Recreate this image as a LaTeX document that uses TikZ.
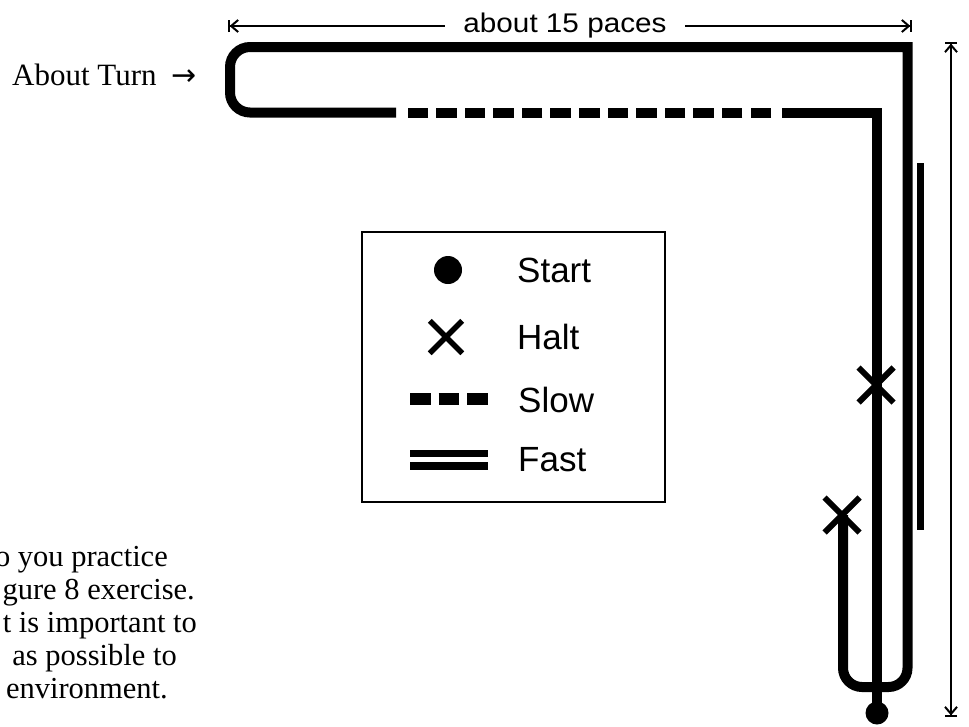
\documentclass[tikz,border=0pt]{standalone}
\usepackage{fontspec}
\setmainfont{Liberation Serif}
\newfontfamily\arialf{Liberation Sans}
\newfontfamily\dejavuf{DejaVu Sans}
\usetikzlibrary{arrows.meta,shapes.misc}
\begin{document}
\begin{tikzpicture}[x=1pt,y=-1pt,
  route/.style={line width=10pt,line join=miter},
  slowdash/.style={line width=10pt,dash pattern=on 20.5pt off 8.08pt},
  fastbar/.style={line width=7.5pt},
  haltmark/.style={cross out,draw,line width=6pt,minimum size=29pt,inner sep=0pt},
  startdot/.style={circle,fill,inner sep=0pt,minimum size=#1},
  dimline/.style={line width=1.4pt,
    arrows={Bar[width=12pt,line width=1.6pt]Straight Barb[length=7pt,width=12pt,line width=2pt]-Straight Barb[length=7pt,width=12pt,line width=2pt]Bar[width=12pt,line width=1.6pt]}},
  legtext/.style={inner sep=0pt,anchor=west,font=\arialf\fontsize{35}{40}\selectfont},
  serif/.style={inner sep=0pt,font=\fontsize{30.5}{33}\selectfont},
  legbox/.style={draw,line width=1.5pt}
]
\useasboundingbox (0,0) rectangle (969,726);

% coordinates of the route
\coordinate (innercorner) at (877,112.5);
\coordinate (slowend) at (782,112.5);
\coordinate (dashR) at (771,112.5);
\coordinate (dashL) at (407,112.5);
\coordinate (slowstart) at (396,112.5);
\coordinate (turnbot) at (230,112.5);
\coordinate (turntop) at (230,47);
\coordinate (topmid) at (600,47);
\coordinate (outercorner) at (907.5,47);
\coordinate (outerlow) at (907.5,600);
\coordinate (ubotR) at (907.5,687);
\coordinate (ubotL) at (843,687);
\coordinate (armend) at (843,515);

% start dot
\node[startdot=23pt] (sdot) at (877,713) {};

% route: centre line up, turn left
\draw[route] (sdot.center) -- (innercorner) -- (slowend);
% slow section
\draw[slowdash] (dashR) -- (dashL);
% about turn, top line, down outer side, U-turn, up to halt
\draw[route] (slowstart) [rounded corners=20pt] -- (turnbot) -- (turntop) -- (topmid)
  [sharp corners] -- (outercorner) -- (outerlow)
  [rounded corners=19pt] -- (ubotR) -- (ubotL) -- (armend);

% halt marks
\node[haltmark] (halt1) at (876,385) {};
\node[haltmark] (halt2) at (842,515) {};

% fast section
\coordinate (fastT) at (920.5,163);
\coordinate (fastB) at (920.5,530);
\draw[fastbar] (fastT) -- (fastB);

% dimension lines
\coordinate (dimL) at (228,26);
\coordinate (dimR) at (912,26);
\draw[dimline] (dimL) -- (dimR);
\node[fill=white,inner xsep=18pt,inner ysep=2pt,anchor=base,font=\arialf\fontsize{27}{30}\selectfont] (paces) at (565,32) {\scalebox{1.1}[1]{about 15 paces}};
\coordinate (dimT) at (951,42);
\coordinate (dimB) at (951,717);
\draw[dimline] (dimT) -- (dimB);

% about turn label
\node[serif,anchor=base west,font=\fontsize{31}{34}\selectfont] (about) at (12,85) {About Turn};
\node[inner sep=0pt,anchor=base west,font=\dejavuf\fontsize{30}{34}\selectfont] (aboutarrow) at (171,85) {→};

% legend
\draw[legbox] (362,232) rectangle (665,502);
\node[startdot=28pt] (lgdot) at (448,270) {};
\node[legtext] (lstart) at (517,270) {Start};
\node[haltmark,minimum size=27pt,line width=5.5pt] (lgx) at (446,337) {};
\node[legtext] (lhalt) at (517,337) {Halt};
\coordinate (lsL) at (410,399);
\coordinate (lsR) at (488,399);
\draw[slowdash,line width=12pt] (lsL) -- (lsR);
\node[legtext] (lslow) at (518,400) {Slow};
\coordinate (lf1L) at (410,453.5);
\coordinate (lf1R) at (488,453.5);
\coordinate (lf2L) at (410,466);
\coordinate (lf2R) at (488,466);
\draw[line width=7pt] (lf1L) -- (lf1R);
\draw[line width=8pt] (lf2L) -- (lf2R);
\node[legtext] (lfast) at (518,460) {Fast};

% clipped paragraph at lower left
\node[serif,anchor=base east] (p1) at (168,566) {o you practice};
\node[serif,anchor=base east] (p2) at (195,599) {gure 8 exercise.};
\node[serif,anchor=base east] (p3) at (197,632) {t is important to};
\node[serif,anchor=base east] (p4) at (177,665) {as possible to};
\node[serif,anchor=base east] (p5) at (168,698) {environment.};
\end{tikzpicture}
\end{document}
